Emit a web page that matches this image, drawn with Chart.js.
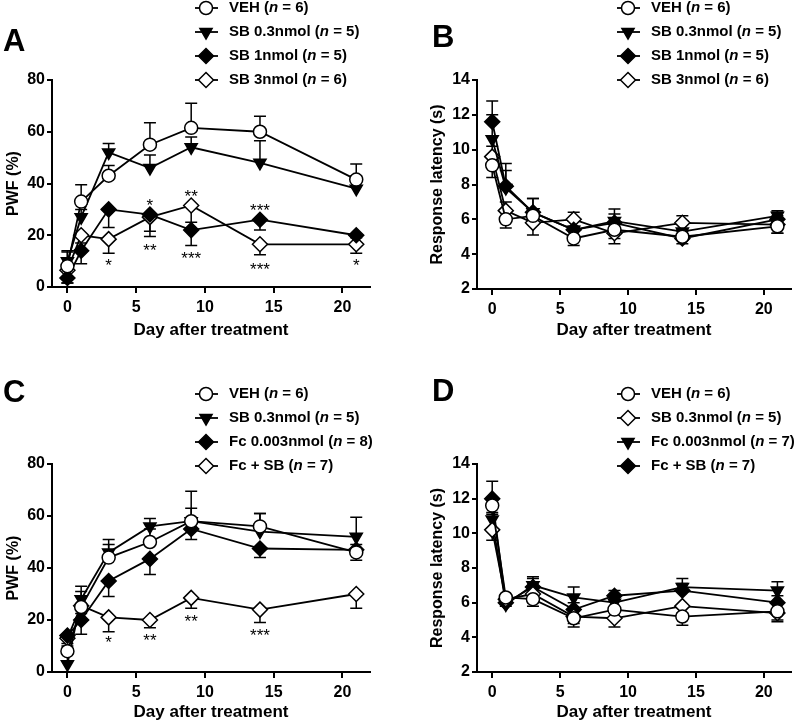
<!DOCTYPE html>
<html>
<head>
<meta charset="utf-8">
<script src="https://cdn.jsdelivr.net/npm/chart.js@4"></script>
<style>
  body { margin: 0; background: #fff; }
  #wrap { position: relative; width: 800px; height: 724px; }
  canvas { position: absolute; }
</style>
</head>
<body>
<div id="wrap">
  <canvas id="chartA" width="400" height="345" style="left:0;top:0"></canvas>
  <canvas id="chartB" width="400" height="345" style="left:400px;top:0"></canvas>
  <canvas id="chartC" width="400" height="364" style="left:0;top:360px"></canvas>
  <canvas id="chartD" width="400" height="364" style="left:400px;top:360px"></canvas>
</div>
<script>
const days = [0, 1, 3, 6, 9, 14, 21];
const xTicks = [0, 5, 10, 15, 20];
const pwfTicks = [0, 20, 40, 60, 80];
const latTicks = [2, 4, 6, 8, 10, 12, 14];

// panel A - PWF
const vehA = [8, 33, 43, 55, 61.5, 60, 41.5];
const vehAErr = [6, 6.5, 4, 8.5, 9.5, 6, 6];
const sb03A = [10, 27, 52, 46, 54, 48, 38];
const sb03AErr = [3.5, 3, 3.5, 5, 4, 8.5, 5];
const sb1A = [3.5, 14, 30, 28, 22, 26, 20];
const sb1AErr = [2, 5, 7, 6.5, 6, 4, 1];
const sb3A = [6.5, 20, 18.5, 27, 31.5, 16.5, 16.5];
const sb3AErr = [5, 3, 5.5, 7.5, 6.5, 4, 3.5];
const starsA = [
  { x: 3, y: 9.6, t: '*' }, { x: 6, y: 33, t: '*' }, { x: 6, y: 15.7, t: '**' },
  { x: 9, y: 36.5, t: '**' }, { x: 9, y: 12.5, t: '***' },
  { x: 14, y: 31, t: '***' }, { x: 14, y: 8.2, t: '***' }, { x: 21, y: 9.9, t: '*' }
];

// panel B - latency
const vehB = [9.1, 6.0, 6.2, 4.9, 5.4, 5.0, 5.6];
const vehBErr = [0.7, 0.5, 0.5, 0.4, 0.5, 0.4, 0.4];
const sb03B = [10.6, 7.8, 6.4, 5.4, 5.9, 5.3, 6.2];
const sb03BErr = [1.4, 1.0, 0.8, 0.5, 0.7, 0.6, 0.3];
const sb1B = [11.6, 7.9, 6.4, 5.4, 5.8, 4.9, 6.0];
const sb1BErr = [1.2, 1.3, 0.8, 0.5, 0.5, 0.4, 0.4];
const sb3B = [9.6, 6.5, 5.8, 6.0, 5.2, 5.8, 5.7];
const sb3BErr = [0.6, 0.5, 0.7, 0.4, 0.6, 0.4, 0.5];

// panel C - PWF
const vehC = [8, 25, 44, 50, 58, 56, 46];
const vehCErr = [5, 6, 5, 5, 5, 5, 3];
const sb03C = [3, 28, 46, 56, 58, 54, 52];
const sb03CErr = [4, 5, 5, 3, 11.5, 7, 7.5];
const fcC = [14, 20, 35, 43.5, 55, 47.5, 47];
const fcCErr = [3, 5.5, 6, 6, 4, 3.5, 4];
const fcSbC = [13, 25.5, 21, 20, 28.5, 24, 30];
const fcSbCErr = [3, 3, 5.5, 3, 4, 5, 5.5];
const starsC = [
  { x: 3, y: 12.7, t: '*' }, { x: 6, y: 13.7, t: '**' },
  { x: 9, y: 20.7, t: '**' }, { x: 14, y: 15.6, t: '***' }
];

// panel D - latency
const vehD = [11.6, 6.3, 6.2, 5.1, 5.6, 5.2, 5.5];
const vehDErr = [0.5, 0.4, 0.4, 0.5, 0.5, 0.5, 0.5];
const sb03D = [10.2, 6.2, 6.5, 5.2, 5.1, 5.8, 5.4];
const sb03DErr = [0.6, 0.4, 0.5, 0.4, 0.5, 0.4, 0.5];
const fcD = [10.8, 5.9, 7.0, 6.3, 6.0, 6.9, 6.7];
const fcDErr = [0.4, 0.3, 0.5, 0.6, 0.3, 0.5, 0.5];
const fcSbD = [12.0, 6.0, 6.9, 5.6, 6.4, 6.7, 6.0];
const fcSbDErr = [1.0, 0.4, 0.5, 0.4, 0.3, 0.4, 0.4];

const FONT = 'Liberation Sans, Arial, sans-serif';

const markers = {
  openCircle: { pointStyle: 'circle', r: 6.5, rot: 0, fill: '#fff' },
  openDiamond: { pointStyle: 'rectRot', r: 7.5, rot: 0, fill: '#fff' },
  fillDiamond: { pointStyle: 'rectRot', r: 7.5, rot: 0, fill: '#000' },
  downTri: { pointStyle: 'triangle', r: 7, rot: 180, fill: '#000' }
};

function drawMarker(ctx, m, x, y) {
  ctx.beginPath();
  if (m.pointStyle === 'circle') {
    ctx.arc(x, y, m.r, 0, Math.PI * 2);
  } else if (m.pointStyle === 'rectRot') {
    ctx.moveTo(x, y - m.r); ctx.lineTo(x + m.r, y);
    ctx.lineTo(x, y + m.r); ctx.lineTo(x - m.r, y);
    ctx.closePath();
  } else {
    const r = m.r;
    ctx.moveTo(x, y + r);
    ctx.lineTo(x + r * Math.sin(Math.PI / 3), y - r / 2);
    ctx.lineTo(x - r * Math.sin(Math.PI / 3), y - r / 2);
    ctx.closePath();
  }
  ctx.fillStyle = m.fill;
  ctx.fill();
  ctx.lineWidth = 1.5;
  ctx.strokeStyle = '#000';
  ctx.stroke();
}

function makePanel(id, p) {
  const extras = {
    id: 'extras' + id,
    beforeDatasetsDraw(chart) {
      const ctx = chart.ctx, xs = chart.scales.x, ys = chart.scales.y;
      ctx.save();
      ctx.strokeStyle = '#000';
      ctx.lineWidth = 1.5;
      chart.data.datasets.forEach(ds => {
        ds.data.forEach((pt, i) => {
          const e = ds.err[i];
          const x = xs.getPixelForValue(pt.x);
          const ends = [];
          if (ds.errDir !== 'down') ends.push(pt.y + e);
          if (ds.errDir !== 'up') ends.push(pt.y - e);
          ends.forEach(v => {
            const y0 = ys.getPixelForValue(pt.y), y1 = ys.getPixelForValue(v);
            ctx.beginPath();
            ctx.moveTo(x, y0); ctx.lineTo(x, y1);
            ctx.moveTo(x - 6, y1); ctx.lineTo(x + 6, y1);
            ctx.stroke();
          });
        });
      });
      ctx.restore();
    },
    afterDraw(chart) {
      const ctx = chart.ctx, xs = chart.scales.x, ys = chart.scales.y;
      ctx.save();
      // panel letter
      ctx.fillStyle = '#000';
      ctx.font = 'bold 31px ' + FONT;
      ctx.textBaseline = 'middle';
      ctx.textAlign = 'left';
      ctx.fillText(p.letter, p.letterX, p.letterY);
      // stars
      ctx.font = '17px ' + FONT;
      ctx.textAlign = 'center';
      ctx.textBaseline = 'top';
      (p.stars || []).forEach(s => {
        ctx.fillText(s.t, xs.getPixelForValue(s.x), ys.getPixelForValue(s.y) - 4);
      });
      // legend
      ctx.textAlign = 'left';
      ctx.textBaseline = 'middle';
      p.series.forEach((s, i) => {
        const y = p.legendY + i * 24;
        ctx.beginPath();
        ctx.lineWidth = 1.8;
        ctx.strokeStyle = '#000';
        ctx.moveTo(p.legendX, y); ctx.lineTo(p.legendX + 23, y);
        ctx.stroke();
        drawMarker(ctx, markers[s.mark], p.legendX + 11, y);
        const parts = s.label.split('(n');
        let tx = p.legendX + 34;
        ctx.fillStyle = '#000';
        ctx.font = 'bold 15px ' + FONT;
        ctx.fillText(parts[0] + '(', tx, y);
        tx += ctx.measureText(parts[0] + '(').width;
        ctx.font = 'italic bold 15px ' + FONT;
        ctx.fillText('n', tx, y);
        tx += ctx.measureText('n').width;
        ctx.font = 'bold 15px ' + FONT;
        ctx.fillText(parts[1], tx, y);
      });
      ctx.restore();
    }
  };

  new Chart(document.getElementById(id), {
    type: 'line',
    data: {
      datasets: p.series.map(s => {
        const m = markers[s.mark];
        return {
          label: s.label,
          data: days.map((d, i) => ({ x: d, y: s.values[i] })),
          err: s.err,
          errDir: s.dir,
          borderColor: '#000',
          borderWidth: 1.8,
          pointStyle: m.pointStyle,
          pointRadius: m.r,
          pointRotation: m.rot,
          pointBackgroundColor: m.fill,
          pointBorderColor: '#000',
          pointBorderWidth: 1.5,
          tension: 0,
          clip: false
        };
      })
    },
    options: {
      responsive: false,
      animation: false,
      devicePixelRatio: 1,
      layout: { padding: p.pad },
      plugins: { legend: { display: false }, tooltip: { enabled: false } },
      scales: {
        x: {
          type: 'linear', min: -1.12, max: 22,
          afterBuildTicks: sc => { sc.ticks = xTicks.map(v => ({ value: v })); },
          afterFit: sc => { sc.height = p.xHeight; },
          grid: { drawOnChartArea: false, drawTicks: true, tickLength: 6, color: '#000', lineWidth: 2 },
          border: { display: true, color: '#000', width: 2 },
          ticks: { color: '#000', font: { family: FONT, size: 16, weight: 'bold' }, padding: 5 },
          title: { display: true, text: 'Day after treatment', color: '#000',
                   font: { family: FONT, size: 17, weight: 'bold' }, padding: { top: 4, bottom: p.titlePad } }
        },
        y: {
          min: p.yTicks[0], max: p.yTicks[p.yTicks.length - 1],
          afterBuildTicks: sc => { sc.ticks = p.yTicks.map(v => ({ value: v })); },
          afterFit: sc => { sc.width = p.yWidth; },
          grid: { drawOnChartArea: false, drawTicks: true, tickLength: 5, color: '#000', lineWidth: 2 },
          border: { display: true, color: '#000', width: 2 },
          ticks: { color: '#000', font: { family: FONT, size: 16, weight: 'bold' }, padding: 2 },
          title: { display: true, text: p.yTitle, color: '#000',
                   font: { family: FONT, size: 16, weight: 'bold' }, padding: { top: 4, bottom: 4 } }
        }
      }
    },
    plugins: [extras]
  });
}

makePanel('chartA', {
  letter: 'A', letterX: 3, letterY: 42,
  legendX: 195, legendY: 8,
  pad: { left: 0, top: 80, right: 30, bottom: 0 }, yWidth: 52, xHeight: 58, titlePad: 4,
  yTicks: pwfTicks, yTitle: 'PWF (%)', stars: starsA,
  series: [
    { label: 'VEH (n = 6)', mark: 'openCircle', values: vehA, err: vehAErr, dir: 'up' },
    { label: 'SB 0.3nmol (n = 5)', mark: 'downTri', values: sb03A, err: sb03AErr, dir: 'up' },
    { label: 'SB 1nmol (n = 5)', mark: 'fillDiamond', values: sb1A, err: sb1AErr, dir: 'down' },
    { label: 'SB 3nmol (n = 6)', mark: 'openDiamond', values: sb3A, err: sb3AErr, dir: 'down' }
  ]
});

makePanel('chartB', {
  letter: 'B', letterX: 32, letterY: 38,
  legendX: 217, legendY: 8,
  pad: { left: 24, top: 80, right: 6, bottom: 0 }, yWidth: 53, xHeight: 56, titlePad: 4,
  yTicks: latTicks, yTitle: 'Response latency (s)',
  series: [
    { label: 'VEH (n = 6)', mark: 'openCircle', values: vehB, err: vehBErr, dir: 'down' },
    { label: 'SB 0.3nmol (n = 5)', mark: 'downTri', values: sb03B, err: sb03BErr, dir: 'up' },
    { label: 'SB 1nmol (n = 5)', mark: 'fillDiamond', values: sb1B, err: sb1BErr, dir: 'up' },
    { label: 'SB 3nmol (n = 6)', mark: 'openDiamond', values: sb3B, err: sb3BErr, dir: 'both' }
  ]
});

makePanel('chartC', {
  letter: 'C', letterX: 3, letterY: 33,
  legendX: 195, legendY: 34,
  pad: { left: 0, top: 104, right: 30, bottom: 0 }, yWidth: 52, xHeight: 52, titlePad: 1,
  yTicks: pwfTicks, yTitle: 'PWF (%)', stars: starsC,
  series: [
    { label: 'VEH (n = 6)', mark: 'openCircle', values: vehC, err: vehCErr, dir: 'up' },
    { label: 'SB 0.3nmol (n = 5)', mark: 'downTri', values: sb03C, err: sb03CErr, dir: 'up' },
    { label: 'Fc 0.003nmol (n = 8)', mark: 'fillDiamond', values: fcC, err: fcCErr, dir: 'down' },
    { label: 'Fc + SB (n = 7)', mark: 'openDiamond', values: fcSbC, err: fcSbCErr, dir: 'down' }
  ]
});

makePanel('chartD', {
  letter: 'D', letterX: 32, letterY: 32,
  legendX: 217, legendY: 34,
  pad: { left: 24, top: 104, right: 6, bottom: 0 }, yWidth: 53, xHeight: 52, titlePad: 1,
  yTicks: latTicks, yTitle: 'Response latency (s)',
  series: [
    { label: 'VEH (n = 6)', mark: 'openCircle', values: vehD, err: vehDErr, dir: 'down' },
    { label: 'SB 0.3nmol (n = 5)', mark: 'openDiamond', values: sb03D, err: sb03DErr, dir: 'down' },
    { label: 'Fc 0.003nmol (n = 7)', mark: 'downTri', values: fcD, err: fcDErr, dir: 'up' },
    { label: 'Fc + SB (n = 7)', mark: 'fillDiamond', values: fcSbD, err: fcSbDErr, dir: 'up' }
  ]
});
</script>
</body>
</html>
